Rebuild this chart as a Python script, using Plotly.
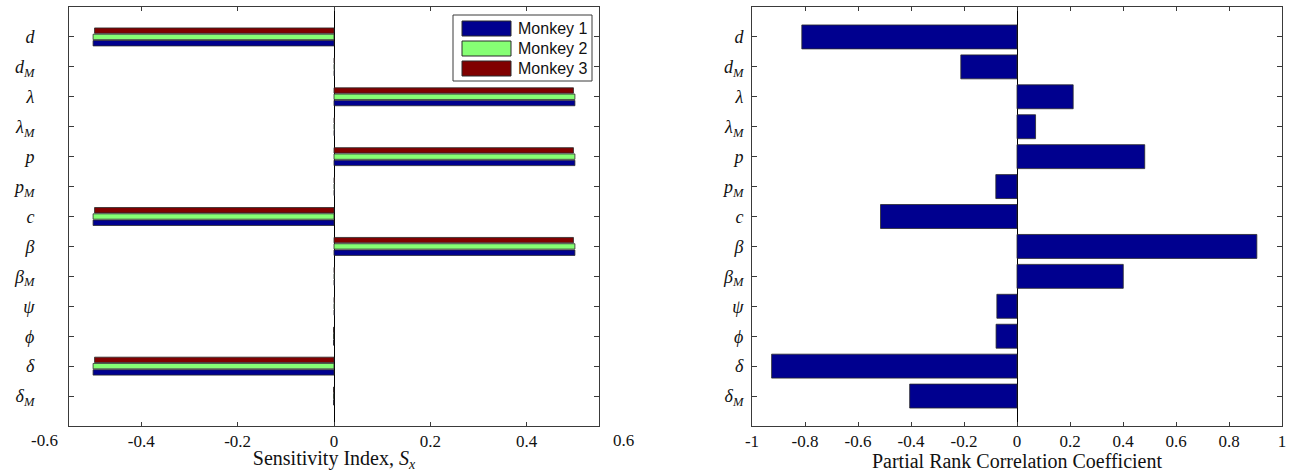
import plotly.graph_objects as go

# ---------------- data ----------------
params = ["<i>d</i>", "<i>d</i><sub><i>M</i></sub>", "<i>λ</i>", "<i>λ</i><sub><i>M</i></sub>",
          "<i>p</i>", "<i>p</i><sub><i>M</i></sub>", "<i>c</i>", "<i>β</i>",
          "<i>β</i><sub><i>M</i></sub>", "<i>ψ</i>", "<i>ϕ</i>", "<i>δ</i>", "<i>δ</i><sub><i>M</i></sub>"]
positions = list(range(1, len(params) + 1))

monkey1 = [-0.500, 0.001, 0.500, 0.001, 0.500, 0.001, -0.500, 0.500, 0.001, 0.001, -0.001, -0.500, -0.001]
monkey2 = [-0.500, 0.001, 0.500, 0.001, 0.500, 0.001, -0.500, 0.500, 0.001, 0.001, -0.001, -0.500, -0.001]
monkey3 = [-0.497, 0.001, 0.497, 0.001, 0.497, 0.001, -0.497, 0.497, 0.001, 0.001, -0.001, -0.497, -0.001]

prcc = [-0.812, -0.212, 0.212, 0.070, 0.482, -0.080, -0.515, 0.905, 0.401, -0.076, -0.079, -0.926, -0.405]

series_names = ["Monkey 1", "Monkey 2", "Monkey 3"]
series_colors = ["#00008F", "#86FF74", "#800000"]

left_ticks = [-0.4, -0.2, 0, 0.2, 0.4]
left_outer_ticks = [-0.6, 0.6]
right_ticks = [-1, -0.8, -0.6, -0.4, -0.2, 0, 0.2, 0.4, 0.6, 0.8, 1]

# ---------------- layout geometry ----------------
W, H = 1297, 472
ML, MR, MT, MB = 69, 15, 7, 46
PW = W - ML - MR
PH = H - MT - MB
LEFT_X = (69, 599)
RIGHT_X = (752, 1282)
XR_LEFT = [-0.55, 0.55]
XR_RIGHT = [-1, 1]

SERIF = "'Liberation Serif', 'Times New Roman', Times, serif"
SANS = "'Liberation Sans', Arial, Helvetica, sans-serif"
FRAME = "#3a3a3a"
EDGE = "#2a2a2a"

fig = go.Figure()

# left panel: grouped bars (Monkey 3 on top, Monkey 1 bottom)
offsets = [0.12, -0.09, -0.30]
for vals, name, col, off in zip([monkey1, monkey2, monkey3], series_names, series_colors, offsets):
    fig.add_trace(go.Bar(
        x=vals, y=positions, orientation="h", name=name,
        marker=dict(color=col, line=dict(color=EDGE, width=0.8)),
        width=0.18, offset=off, xaxis="x", yaxis="y", showlegend=False,
    ))

# right panel
fig.add_trace(go.Bar(
    x=prcc, y=positions, orientation="h", name="PRCC",
    marker=dict(color=series_colors[0], line=dict(color=EDGE, width=0.8)),
    width=0.8, xaxis="x2", yaxis="y2", showlegend=False,
))

tick_font = dict(family=SERIF, size=17, color="#111")
common_x = dict(showline=True, mirror="ticks", linecolor=FRAME, linewidth=1,
                ticks="inside", ticklen=4, tickcolor=FRAME, showgrid=False,
                zeroline=True, zerolinecolor="#000", zerolinewidth=1,
                tickfont=tick_font)
common_y = dict(showline=True, mirror="ticks", linecolor=FRAME, linewidth=1,
                ticks="inside", ticklen=5, tickcolor=FRAME, showgrid=False,
                zeroline=False, range=[len(params) + 1, 0],
                tickmode="array", tickvals=positions, ticktext=params,
                tickfont=dict(family=SERIF, size=18, color="#111"))

fig.update_layout(
    width=W, height=H,
    margin=dict(l=ML, r=MR, t=MT, b=MB, autoexpand=False),
    plot_bgcolor="white", paper_bgcolor="white",
    barmode="overlay",
    font=dict(family=SERIF),
    xaxis=dict(common_x, domain=[(LEFT_X[0] - ML) / PW, (LEFT_X[1] - ML) / PW],
               range=XR_LEFT, tickmode="array", tickvals=left_ticks,
               ticktext=[f"{v:g}" for v in left_ticks], anchor="y",
               title=dict(text="Sensitivity Index, <i>S</i><sub><i>x</i></sub>",
                          font=dict(family=SERIF, size=20, color="#111"), standoff=6)),
    yaxis=dict(common_y, domain=[0, 1], anchor="x", ticklabelstandoff=30),
    xaxis2=dict(common_x, domain=[(RIGHT_X[0] - ML) / PW, (RIGHT_X[1] - ML) / PW],
                range=XR_RIGHT, tickmode="array", tickvals=right_ticks,
                ticktext=[f"{v:g}" for v in right_ticks], anchor="y2",
                title=dict(text="Partial Rank Correlation Coefficient",
                           font=dict(family=SERIF, size=20, color="#111"), standoff=6)),
    yaxis2=dict(common_y, domain=[0, 1], anchor="x2", ticklabelstandoff=4),
)

# tick labels at -0.6 / 0.6 that sit outside the left frame
for v in left_outer_ticks:
    fig.add_annotation(
        x=(v - XR_LEFT[0]) / (XR_LEFT[1] - XR_LEFT[0]), xref="x domain",
        y=0, yref="y domain", yanchor="top", xanchor="center", yshift=-3,
        text=f"{v:g}", showarrow=False, font=tick_font,
    )

# custom legend (wide swatches as in the original)
def dx(px):
    return (px - LEFT_X[0]) / (LEFT_X[1] - LEFT_X[0])

def dy(py):
    return 1 - (py - MT) / PH

fig.add_shape(type="rect", xref="x domain", yref="y domain",
              x0=dx(453), x1=dx(592), y0=dy(81), y1=dy(15),
              line=dict(color=FRAME, width=1), fillcolor="white", layer="above")
rows = [(21, 36), (41, 56), (61, 76)]
for (top, bot), name, col in zip(rows, series_names, series_colors):
    fig.add_shape(type="rect", xref="x domain", yref="y domain",
                  x0=dx(462), x1=dx(511), y0=dy(bot), y1=dy(top),
                  line=dict(color=EDGE, width=1), fillcolor=col, layer="above")
    fig.add_annotation(x=dx(516), xref="x domain", y=dy((top + bot) / 2), yref="y domain",
                       xanchor="left", yanchor="middle", text=name, showarrow=False,
                       font=dict(family=SANS, size=16, color="#111"))

fig.write_html("out.html", config={"displayModeBar": False},
               post_script="document.body.style.margin='0';document.body.style.overflow='hidden';")
